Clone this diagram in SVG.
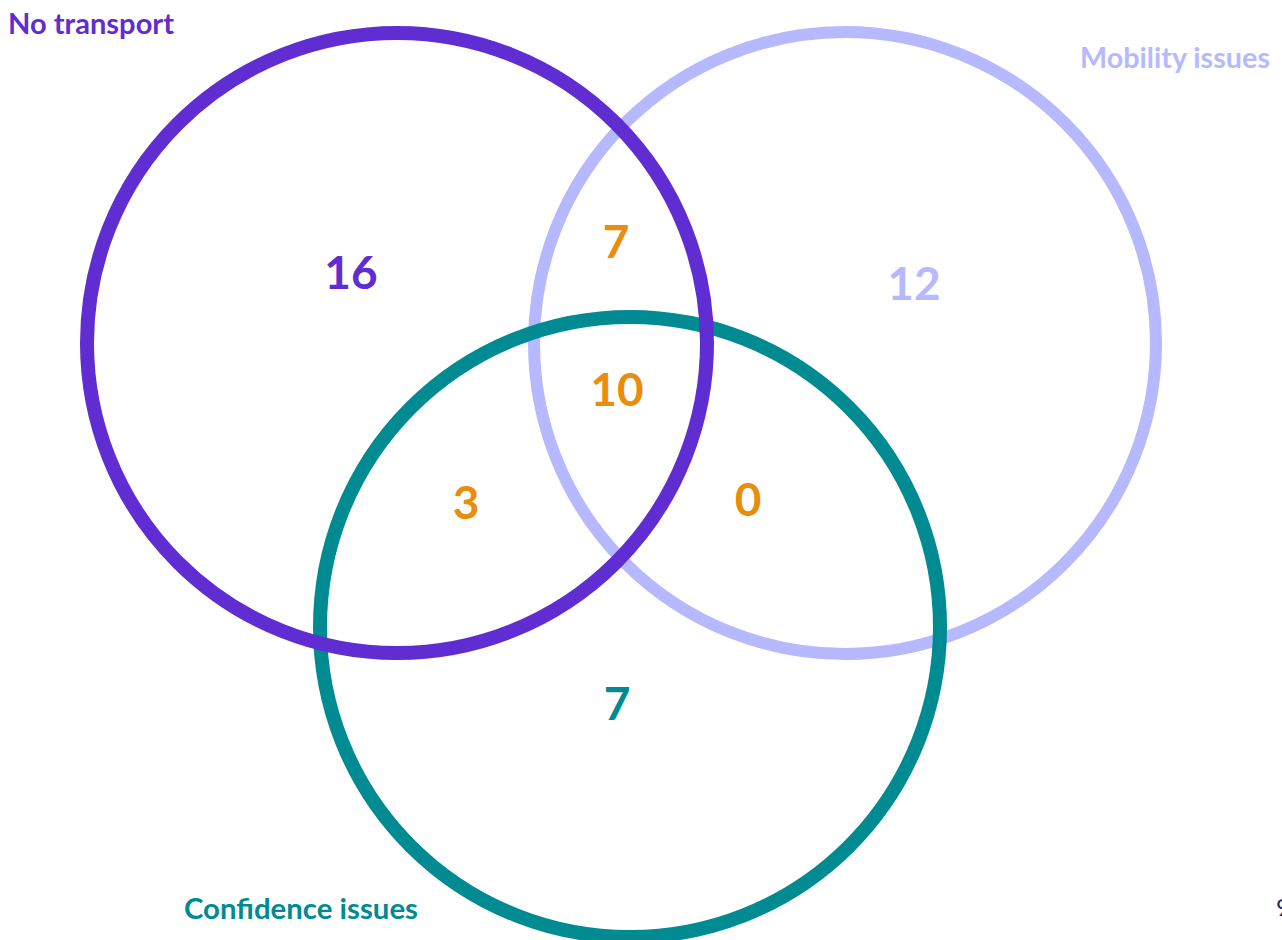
<svg xmlns="http://www.w3.org/2000/svg" width="1282" height="940" viewBox="0 0 1282 940">
<style>
.ring{fill:none}
.lbl{font-family:Lato,"Open Sans","Liberation Sans",sans-serif;font-weight:700;font-size:28px}
.num{font-family:Lato,"Open Sans","Liberation Sans",sans-serif;font-weight:700;font-size:46px;text-anchor:middle}
.o{fill:#ea8d0e}
</style>
<rect width="1282" height="940" fill="#ffffff"/>
<g id="mobility">
<circle class="ring" cx="845" cy="343" r="311" stroke="#b6b9ff" stroke-width="12"/>
<text class="lbl" x="1080" y="68" fill="#b6b9ff" textLength="190" lengthAdjust="spacingAndGlyphs">Mobility issues</text>
<text class="num" x="914" y="300" fill="#b6b9ff">12</text>
</g>
<g id="confidence">
<circle class="ring" cx="630" cy="627" r="310" stroke="#008b93" stroke-width="14"/>
<text class="lbl" x="184" y="919" fill="#008b93" textLength="234" lengthAdjust="spacingAndGlyphs">Confidence issues</text>
<text class="num" x="617" y="720" fill="#008b93">7</text>
</g>
<g id="notransport">
<circle class="ring" cx="397" cy="343" r="310" stroke="#5f2dd2" stroke-width="14"/>
<text class="lbl" x="8" y="34" fill="#5f2dd2" textLength="166" lengthAdjust="spacingAndGlyphs">No transport</text>
<text class="num" x="351" y="289" fill="#5f2dd2">16</text>
</g>
<g id="overlaps">
<text class="num o" x="616" y="258">7</text>
<text class="num o" x="617" y="406">10</text>
<text class="num o" x="466" y="519">3</text>
<text class="num o" x="748" y="516">0</text>
</g>
<text x="1276" y="916" font-family="Lato,'Liberation Sans',sans-serif" font-size="24" fill="#2b2563">9</text>
</svg>
